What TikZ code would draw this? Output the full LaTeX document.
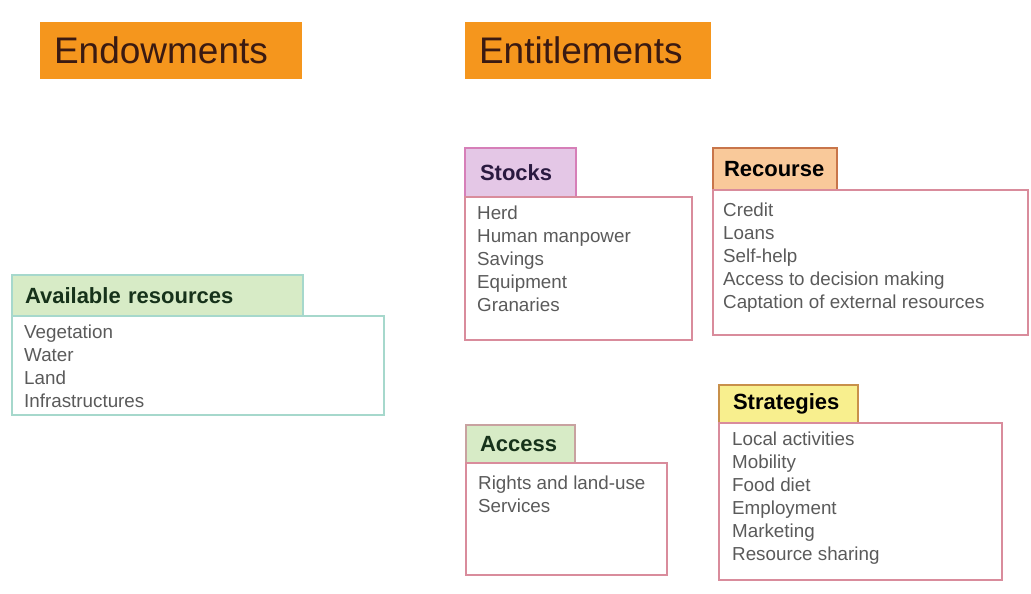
\documentclass[tikz,border=0pt]{standalone}
\usepackage{fontspec}
\setmainfont{Liberation Sans}
\usepackage{tikz}

\definecolor{titleorange}{HTML}{F5961D}
\definecolor{titletext}{HTML}{3A1A12}
\definecolor{greenfill}{HTML}{D7EBC6}
\definecolor{availline}{HTML}{A6D8CC}
\definecolor{greentext}{HTML}{16321A}
\definecolor{stockfill}{HTML}{E4C7E6}
\definecolor{stockline}{HTML}{D67FB8}
\definecolor{stocktext}{HTML}{2A1A40}
\definecolor{recfill}{HTML}{F9C99A}
\definecolor{recline}{HTML}{C8754A}
\definecolor{accline}{HTML}{C8A2A0}
\definecolor{stratfill}{HTML}{F8EF8E}
\definecolor{stratline}{HTML}{C8904A}
\definecolor{pinkline}{HTML}{D98C9C}
\definecolor{listgray}{HTML}{5A5A5A}

\begin{document}
\begin{tikzpicture}
[x=1pt,y=-1pt,
title/.style={fill=titleorange,anchor=north west,outer sep=0pt,inner xsep=14pt,align=left,text=titletext,font=\fontsize{37}{44}\selectfont},
head/.style={draw,line width=1.5pt,anchor=north west,outer sep=0pt,inner xsep=14pt,align=left,font=\fontsize{22}{26}\selectfont\bfseries},
body/.style={draw,line width=1.5pt,anchor=north west,outer sep=0pt,inner sep=0pt},
list/.style={anchor=north west,inner sep=0pt,align=left,text=listgray,font=\fontsize{18.8}{23}\selectfont}]
\useasboundingbox (0,0) rectangle (1031,594);

\node[title,text width=234pt,minimum height=57pt] (endow) at (40,22) {Endowments};
\node[title,text width=218pt,minimum height=57pt] (entitle) at (465,22) {Entitlements};

\node[head,draw=availline,fill=greenfill,text=greentext,inner xsep=13pt,text width=265pt,minimum height=41pt] (avail) at (12,275) {Available resources};
\node[body,draw=availline,minimum width=372pt,minimum height=99pt] (availb) at (avail.south west) {};
\node[list] (availlist) at ([shift={(12,6)}]availb.north west) {\strut Vegetation\\Water\\Land\\Infrastructures};

\node[head,draw=stockline,fill=stockfill,text=stocktext,inner xsep=15pt,text width=81pt,minimum height=49pt] (stocks) at (465,148) {Stocks};
\node[body,draw=pinkline,minimum width=227pt,minimum height=143pt] (stocksb) at (stocks.south west) {};
\node[list] (stockslist) at ([shift={(12,6)}]stocksb.north west) {\strut Herd\\Human manpower\\Savings\\Equipment\\Granaries};

\node[head,draw=recline,fill=recfill,text=black,inner xsep=11pt,text width=102pt,minimum height=42pt] (recourse) at (713,148) {Recourse};
\node[body,draw=pinkline,minimum width=315pt,minimum height=145pt] (recourseb) at (recourse.south west) {};
\node[list] (recourselist) at ([shift={(10,10)}]recourseb.north west) {\strut Credit\\Loans\\Self-help\\Access to decision making\\Captation of external resources};

\node[head,draw=accline,fill=greenfill,text=greentext,text width=81pt,minimum height=38pt] (access) at (466,425) {Access};
\node[body,draw=pinkline,minimum width=201pt,minimum height=112pt] (accessb) at (access.south west) {};
\node[list] (accesslist) at ([shift={(12,10)}]accessb.north west) {\strut Rights and land-use\\Services};

\node[head,draw=stratline,fill=stratfill,text=black,text width=111pt,minimum height=38pt] (strat) at (719,385) {Strategies};
\node[body,draw=pinkline,minimum width=283pt,minimum height=157pt] (stratb) at (strat.south west) {};
\node[list] (stratlist) at ([shift={(13,6)}]stratb.north west) {\strut Local activities\\Mobility\\Food diet\\Employment\\Marketing\\Resource sharing};
\end{tikzpicture}
\end{document}
